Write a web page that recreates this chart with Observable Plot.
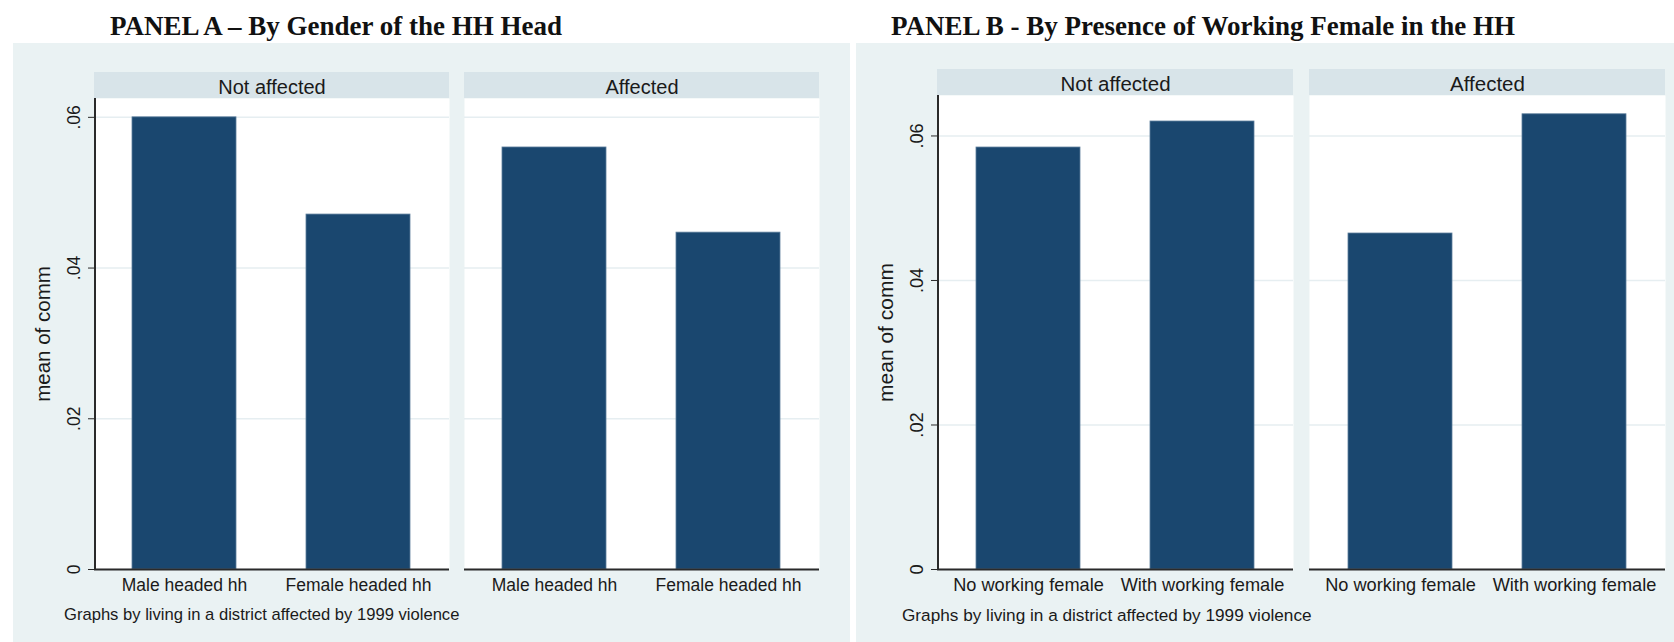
<!DOCTYPE html>
<html>
<head>
<meta charset="utf-8">
<script src="https://cdn.jsdelivr.net/npm/d3@7"></script>
<script src="https://cdn.jsdelivr.net/npm/@observablehq/plot@0.6"></script>
<style>
  html, body { margin: 0; padding: 0; background: #ffffff; }
  #page { position: relative; width: 1674px; height: 642px; overflow: hidden; background: #ffffff; }
  .title { position: absolute; top: 11px; font-family: "Liberation Serif", "Times New Roman", serif; font-weight: bold; font-size: 27px; line-height: 30px; color: #111; white-space: nowrap; }
  .panel { position: absolute; top: 43px; height: 599px; background: #eaf2f3; }
  .panel svg { display: block; }
  .caption { font-family: "Liberation Sans", Arial, sans-serif; color: #1a1a1a; line-height: 30px; height: 42px; white-space: nowrap; }
</style>
</head>
<body>
<div id="page">
  <div class="title" style="left:110px">PANEL A – By Gender of the HH Head</div>
  <div class="title" style="left:891px">PANEL B - By Presence of Working Female in the HH</div>
  <div class="panel" id="panelA" style="left:13px; width:837px"></div>
  <div class="panel" id="panelB" style="left:856px; width:818px"></div>
</div>
<script>
// ---- data ----
const groups = ["Not affected", "Affected"];
const categoriesA = ["Male headed hh", "Female headed hh"];
const valuesA_notAffected = [0.0600, 0.0471];
const valuesA_affected = [0.0560, 0.0447];
const categoriesB = ["No working female", "With working female"];
const valuesB_notAffected = [0.0584, 0.0620];
const valuesB_affected = [0.0465, 0.0630];
const yTicks = [0, 0.02, 0.04, 0.06];
const yTickLabels = ["0", ".02", ".04", ".06"];
const yTitle = "mean of comm";
const captionText = "Graphs by living in a district affected by 1999 violence";

function rows(categories, notAff, aff) {
  const out = [];
  categories.forEach((c, i) => out.push({group: groups[0], cat: c, value: notAff[i]}));
  categories.forEach((c, i) => out.push({group: groups[1], cat: c, value: aff[i]}));
  return out;
}

function makePanel(el, cfg) {
  const height = 557;
  const chart = Plot.plot({
    width: cfg.width,
    height,
    marginLeft: cfg.marginLeft,
    marginRight: cfg.marginRight,
    marginTop: cfg.marginTop,
    marginBottom: height - cfg.baseline,
    style: {background: "transparent", fontFamily: "'Liberation Sans', Arial, sans-serif", color: "#1a1a1a"},
    fx: {domain: groups, paddingInner: cfg.fxPad, paddingOuter: 0, label: null},
    x: {domain: cfg.categories, paddingInner: 0.4, paddingOuter: 0.22, label: null},
    y: {domain: [0, cfg.yMax], label: null},
    marks: [
      Plot.frame({fill: "white", stroke: null}),
      Plot.gridY(yTicks, {stroke: "#e6eef1", strokeOpacity: 1, strokeWidth: 1.5}),
      Plot.barY(cfg.data, {fx: "group", x: "cat", y: "value", fill: "#1a476f", stroke: "#5d7e9c", strokeWidth: 0.8}),
      Plot.ruleY([0], {stroke: "#2a2a2a", strokeWidth: 2}),
      Plot.axisY({ticks: yTicks, tickFormat: d => yTickLabels[yTicks.indexOf(d)], tickRotate: -90, tickSize: 6, tickPadding: 9, fontSize: cfg.tickFont, label: null, stroke: "#2a2a2a"}),
      Plot.text([{fx: groups[0], t: yTitle}], {fx: "fx", text: "t", frameAnchor: "left", dx: cfg.titleDx, rotate: -90, textAnchor: "middle", lineAnchor: "middle", fontSize: cfg.titleFont, fill: "#1a1a1a"}),
      Plot.axisX({tickSize: 0, tickPadding: 9, fontSize: cfg.tickFont, label: null}),
      Plot.axisFx({anchor: "top", tickSize: 0, tickPadding: 5, fontSize: cfg.stripFont, label: null})
    ]
  });
  // strips and left axis line, positioned with the library's fx scale
  const fx = chart.scale("fx");
  const bw = fx.bandwidth;
  const svg = d3.select(chart);
  const g = svg.insert("g", ":first-child").attr("class", "strips");
  for (const key of groups) {
    g.append("rect")
      .attr("x", fx.apply(key)).attr("width", bw)
      .attr("y", cfg.marginTop - 26).attr("height", 26)
      .attr("fill", "#d8e4e9");
  }
  svg.append("line")
    .attr("x1", fx.apply(groups[0]) + 1).attr("x2", fx.apply(groups[0]) + 1)
    .attr("y1", cfg.marginTop).attr("y2", cfg.baseline + 1)
    .attr("stroke", "#2a2a2a").attr("stroke-width", 2);
  el.appendChild(chart);
  const cap = document.createElement("div");
  cap.className = "caption";
  cap.style.paddingLeft = cfg.captionLeft + "px";
  cap.style.fontSize = cfg.captionFont + "px";
  cap.textContent = captionText;
  el.appendChild(cap);
}

makePanel(document.getElementById("panelA"), {
  data: rows(categoriesA, valuesA_notAffected, valuesA_affected),
  categories: categoriesA,
  width: 837, marginLeft: 81, marginRight: 30, marginTop: 55, baseline: 526,
  fxPad: 0.04, yMax: 0.0625,
  tickFont: 17.5, titleFont: 20.5, stripFont: 20, titleDx: -51,
  captionLeft: 51, captionFont: 16.6
});
makePanel(document.getElementById("panelB"), {
  data: rows(categoriesB, valuesB_notAffected, valuesB_affected),
  categories: categoriesB,
  width: 818, marginLeft: 81, marginRight: 8, marginTop: 52, baseline: 526,
  fxPad: 0.043, yMax: 0.0656,
  tickFont: 18.2, titleFont: 21, stripFont: 20.5, titleDx: -51,
  captionLeft: 46, captionFont: 17.2
});
</script>
</body>
</html>
